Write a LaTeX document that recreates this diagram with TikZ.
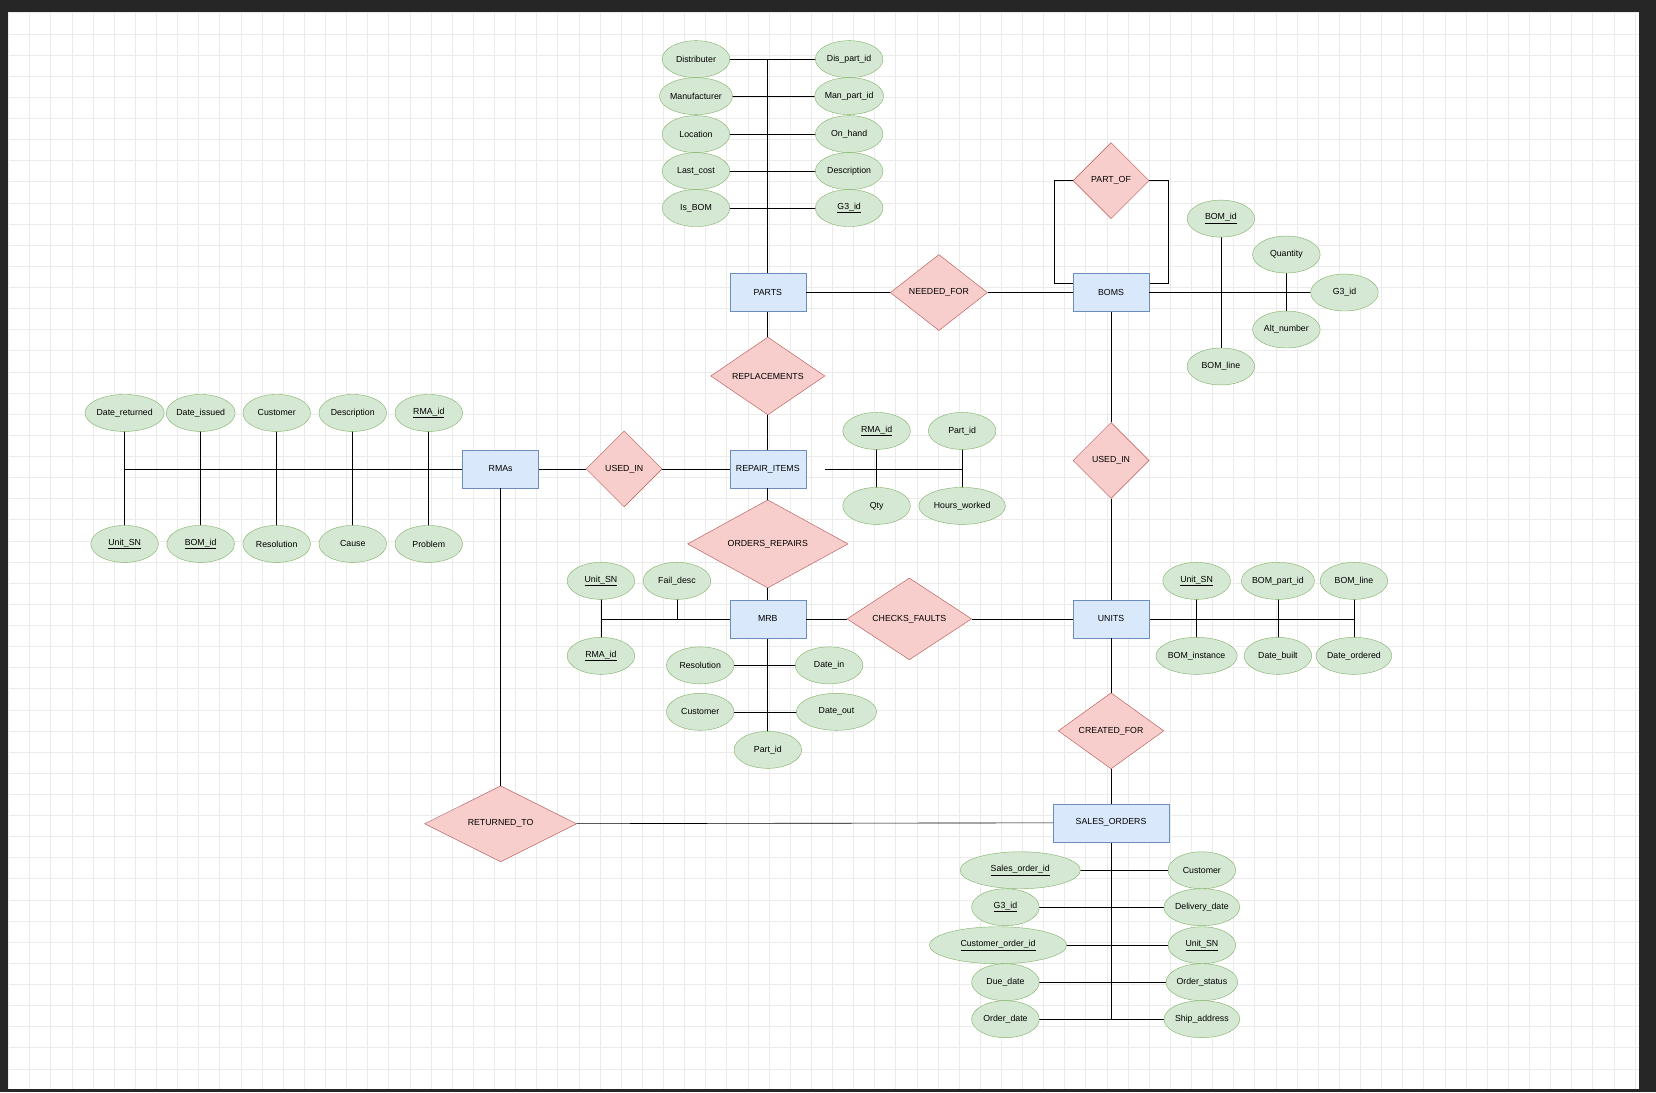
\documentclass[tikz,border=0pt]{standalone}
\usepackage{fontspec}
\setmainfont{Liberation Sans}
\usetikzlibrary{shapes.geometric}
\begin{document}
\begin{tikzpicture}[x=1pt,y=-1pt,
 every node/.style={font=\fontsize{8.3}{9}\selectfont},
 ent/.style={draw={rgb,255:red,108;green,142;blue,191},fill={rgb,255:red,218;green,232;blue,252},minimum width=72pt,minimum height=36pt,inner sep=1pt},
 rel/.style={diamond,draw={rgb,255:red,184;green,84;blue,80},fill={rgb,255:red,248;green,206;blue,204},inner sep=0pt,minimum height=72pt},
 attr/.style={ellipse,draw={rgb,255:red,130;green,179;blue,102},fill={rgb,255:red,213;green,232;blue,212},minimum width=64pt,minimum height=35pt,inner xsep=0pt},
 ln/.style={draw=black,line width=0.6pt}]
\useasboundingbox (0,0) rectangle (1568,1034);
\fill[black!85] (0,0) rectangle (1568,1034);
\fill[white] (8,12) rectangle (1552,1031);
\foreach \i in {0,...,77} {\draw[black!8,line width=0.4pt] (8+\i*20,12) -- (8+\i*20,1031);}
\foreach \j in {0,...,50} {\draw[black!8,line width=0.4pt] (8,12+\j*20) -- (1552,12+\j*20);}
% lines first
\draw[ln] (727,56) -- (727,260);
\foreach \y in {56,91,127,162,197} {\draw[ln] (659,\y) -- (804,\y);}
\draw[ln] (1156,207) -- (1156,347);
\draw[ln] (1218,241) -- (1218,312);
\draw[ln] (1016,268) -- (998,268) -- (998,171) -- (1016,171);
\draw[ln] (1088,268) -- (1106,268) -- (1106,171) -- (1088,171);
\draw[ln] (118,444) -- (438,444);
\foreach \x in {118,190,262,334,406} {\draw[ln] (\x,391) -- (\x,515);}
\draw[ln] (781,444) -- (911,444);
\draw[ln] (830,408) -- (830,479);
\draw[ln] (911,408) -- (911,479);
\draw[ln] (569,586) -- (691,586);
\draw[ln] (569,550) -- (569,621);
\draw[ln] (641,550) -- (641,586);
\draw[ln] (727,604) -- (727,710);
\draw[ln] (663,630) -- (785,630);
\draw[ln] (663,674) -- (792,674);
\draw[ln] (1088,586) -- (1282,586);
\foreach \x in {1133,1210,1282} {\draw[ln] (\x,550) -- (\x,621);}
\draw[ln] (1052,797) -- (1052,965);
\foreach \y/\l/\r in {824/966/1138,859/952/1138,895/945/1138,930/952/1138,965/952/1138} {\draw[ln] (\l,\y) -- (\r,\y);}
% entities
\node[ent] (parts) at (727,277) {PARTS};
\node[ent] (boms) at (1052,277) {BOMS};
\node[ent] (rmas) at (474,444) {RMAs};
\node[ent] (ri) at (727,444) {REPAIR\_ITEMS};
\node[ent] (mrb) at (727,586) {MRB};
\node[ent] (units) at (1052,586) {UNITS};
\node[ent,minimum width=110pt] (so) at (1052,779) {SALES\_ORDERS};
% relations
\node[rel,minimum width=72pt] (partof) at (1052,171) {PART\_OF};
\node[rel,minimum width=92pt] (needed) at (889,277) {NEEDED\_FOR};
\node[rel,minimum width=108pt] (repl) at (727,356) {REPLACEMENTS};
\node[rel,minimum width=72pt] (usedin) at (591,444) {USED\_IN};
\node[rel,minimum width=72pt] (usedinb) at (1052,436) {USED\_IN};
\node[rel,minimum width=152pt] (orders) at (727,515) {ORDERS\_REPAIRS};
\node[rel,minimum width=118pt] (checks) at (861,586) {CHECKS\_FAULTS};
\node[rel,minimum width=100pt] (created) at (1052,692) {CREATED\_FOR};
\node[rel,minimum width=144pt] (returned) at (474,780) {RETURNED\_TO};
% connectors
\draw[ln] (parts) -- (needed) -- (boms);
\draw[ln] (parts) -- (repl) -- (ri);
\draw[ln] (rmas) -- (usedin) -- (ri);
\draw[ln] (ri) -- (orders) -- (mrb);
\draw[ln] (mrb) -- (checks) -- (units);
\draw[ln] (boms) -- (usedinb) -- (units);
\draw[ln] (units) -- (created) -- (so);
\draw[ln] (rmas) -- (returned.north);
\draw[ln] (returned) -- (so);
\draw[ln] (boms) -- (1273,277);
% attributes
\node[attr] at (659,56) {Distributer};
\node[attr] at (659,91) {Manufacturer};
\node[attr] at (659,127) {Location};
\node[attr] at (659,162) {Last\_cost};
\node[attr] at (659,197) {Is\_BOM};
\node[attr] at (804,56) {Dis\_part\_id};
\node[attr] at (804,91) {Man\_part\_id};
\node[attr] at (804,127) {On\_hand};
\node[attr] at (804,162) {Description};
\node[attr] at (804,197) {\underline{G3\_id}};
\node[attr] at (1156,207) {\underline{BOM\_id}};
\node[attr] at (1218,241) {Quantity};
\node[attr] at (1273,277) {G3\_id};
\node[attr] at (1218,312) {Alt\_number};
\node[attr] at (1156,347) {BOM\_line};
\node[attr,minimum width=70pt] at (118,391) {Date\_returned};
\node[attr] at (190,391) {Date\_issued};
\node[attr] at (262,391) {Customer};
\node[attr] at (334,391) {Description};
\node[attr] at (406,391) {\underline{RMA\_id}};
\node[attr] at (118,515) {\underline{Unit\_SN}};
\node[attr] at (190,515) {\underline{BOM\_id}};
\node[attr] at (262,515) {Resolution};
\node[attr] at (334,515) {Cause};
\node[attr] at (406,515) {Problem};
\node[attr] at (830,408) {\underline{RMA\_id}};
\node[attr] at (911,408) {Part\_id};
\node[attr] at (830,479) {Qty};
\node[attr,minimum width=82pt] at (911,479) {Hours\_worked};
\node[attr] at (569,550) {\underline{Unit\_SN}};
\node[attr] at (641,550) {Fail\_desc};
\node[attr] at (569,621) {\underline{RMA\_id}};
\node[attr] at (663,630) {Resolution};
\node[attr] at (785,630) {Date\_in};
\node[attr] at (663,674) {Customer};
\node[attr,minimum width=76pt] at (792,674) {Date\_out};
\node[attr] at (727,710) {Part\_id};
\node[attr] at (1133,550) {\underline{Unit\_SN}};
\node[attr] at (1210,550) {BOM\_part\_id};
\node[attr] at (1282,550) {BOM\_line};
\node[attr,minimum width=76pt] at (1133,621) {BOM\_instance};
\node[attr] at (1210,621) {Date\_built};
\node[attr] at (1282,621) {Date\_ordered};
\node[attr,minimum width=114pt] at (966,824) {\underline{Sales\_order\_id}};
\node[attr] at (952,859) {\underline{G3\_id}};
\node[attr,minimum width=130pt] at (945,895) {\underline{Customer\_order\_id}};
\node[attr] at (952,930) {Due\_date};
\node[attr] at (952,965) {Order\_date};
\node[attr] at (1138,824) {Customer};
\node[attr] at (1138,859) {Delivery\_date};
\node[attr] at (1138,895) {\underline{Unit\_SN}};
\node[attr] at (1138,930) {Order\_status};
\node[attr] at (1138,965) {Ship\_address};
\end{tikzpicture}
\end{document}
